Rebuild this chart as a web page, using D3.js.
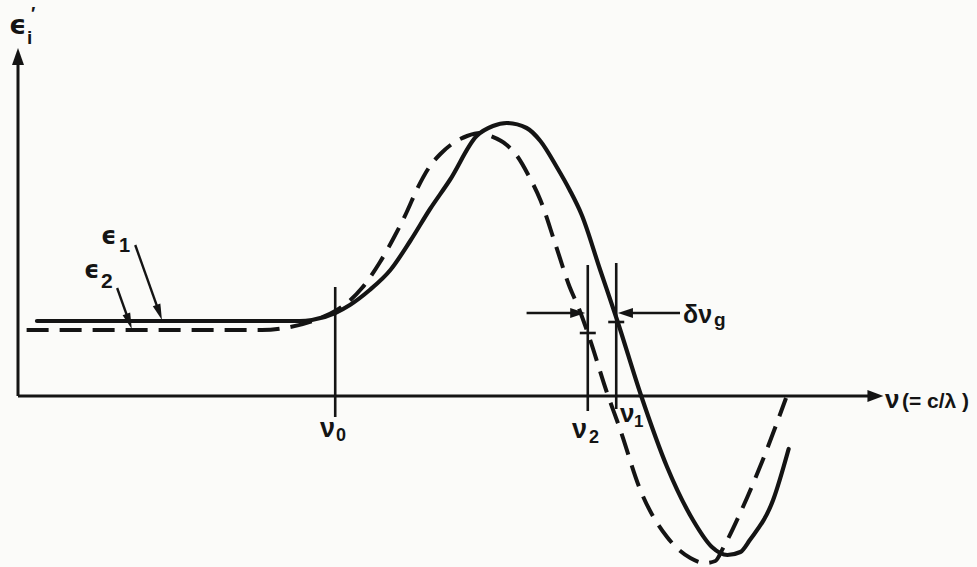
<!DOCTYPE html>
<html>
<head>
<meta charset="utf-8">
<script src="https://cdn.jsdelivr.net/npm/d3@7"></script>
<style>
  html, body { margin: 0; padding: 0; background: #fbfbf9; }
  svg { display: block; }
  text { font-family: "Liberation Sans", "DejaVu Sans", sans-serif; font-weight: bold; fill: #141414; }
  text.eps { font-family: "DejaVu Sans", sans-serif; }
</style>
</head>
<body>
<svg id="chart" width="977" height="567"></svg>
<script>
// curve eps1 (solid), frequency units vs permittivity units
const eps1X = [2.2, 15.3, 32.7, 34.1, 36.8, 38.5, 40.8, 43.2, 45.5, 47.8, 50.1, 53.2, 55.1, 56.7, 59.0, 60.6, 62.5, 64.0, 65.4, 67.5, 69.5, 72.3, 75.3, 78.3, 80.5, 82.3, 83.8, 84.9, 87.6, 89.4];
const eps1Y = [7.5, 7.5, 7.5, 7.6, 8.3, 9.1, 10.6, 12.6, 15.5, 18.7, 21.6, 26.0, 27.0, 27.3, 26.8, 25.5, 22.9, 20.6, 18.1, 12.7, 7.6, 0, -7.1, -12.4, -15.1, -15.9, -15.6, -14.4, -10.4, -5.3];

// curve eps2 (dashed)
const eps2X = [1.0, 15.3, 28.3, 31.6, 34.5, 36.8, 38.3, 39.9, 42.0, 43.7, 45.1, 46.3, 47.8, 49.0, 50.5, 52.1, 53.6, 54.8, 56.7, 57.9, 59.2, 60.6, 62.3, 64.0, 65.0, 66.3, 68.3, 69.8, 72.2, 75.3, 78.0, 79.7, 80.9, 81.8, 84.1, 86.4, 89.1];
const eps2Y = [6.6, 6.6, 6.6, 6.9, 7.6, 8.5, 9.4, 10.8, 13.4, 16.0, 18.4, 20.7, 23.0, 24.2, 25.3, 26.0, 26.3, 26.0, 25.1, 24.0, 22.1, 19.6, 15.3, 10.9, 8.9, 5.8, 0.4, -3.2, -9.4, -14.1, -16.2, -16.7, -16.5, -15.2, -11.1, -6.4, -0.2];

// marked frequencies
const nuNames = ["ν0", "ν2", "ν1"];
const nuX = [36.8, 66.1, 69.4];
const nuTop = [10.9, 13.1, 13.3];
const nuBottom = [-2.1, -1.5, -1.3];
const tickY = [null, 6.3, 7.4];

// group delay arrows
const deltaY = 8.3;
const deltaLeftFrom = 59.0, deltaLeftTo = 65.8;
const deltaRightFrom = 76.8, deltaRightTo = 69.6;

// label leaders
const leaders = [
  { name: "ε1", from: [13.6, 15.1], to: [16.7, 7.6] },
  { name: "ε2", from: [11.5, 10.8], to: [13.2, 6.7] }
];

const xAxisEnd = 100.4;
const yAxisEnd = 34.8;

const ink = "#141414";
const svg = d3.select("#chart");

const x = d3.scaleLinear().domain([0, 100]).range([18, 880]);
const y = d3.scaleLinear().domain([-17, 35]).range([566, 46]);

// filled arrow head with tip at (tx,ty), pointing along angle from (fx,fy)
function arrowHead(g, fx, fy, tx, ty, len, half) {
  const a = Math.atan2(ty - fy, tx - fx);
  const bx = tx - len * Math.cos(a), by = ty - len * Math.sin(a);
  const px = -Math.sin(a) * half, py = Math.cos(a) * half;
  g.append("path")
    .attr("d", `M${tx},${ty}L${bx + px},${by + py}L${bx - px},${by - py}Z`)
    .attr("fill", ink);
}

function arrowLine(g, x1, y1, x2, y2, w, len, half) {
  const a = Math.atan2(y2 - y1, x2 - x1);
  g.append("line")
    .attr("x1", x1).attr("y1", y1)
    .attr("x2", x2 - (len - 2) * Math.cos(a)).attr("y2", y2 - (len - 2) * Math.sin(a))
    .attr("stroke", ink).attr("stroke-width", w);
  arrowHead(g, x1, y1, x2, y2, len, half);
}

const g = svg.append("g");

// axes
arrowLine(g, x(0), y(0), x(xAxisEnd), y(0), 3, 16, 6);
arrowLine(g, x(0), y(0), x(0), y(yAxisEnd), 3, 17, 6);

// frequency markers
g.selectAll(".nu")
  .data(nuX)
  .join("line")
  .attr("class", "nu")
  .attr("x1", d => x(d)).attr("x2", d => x(d))
  .attr("y1", (d, i) => y(nuTop[i]))
  .attr("y2", (d, i) => y(nuBottom[i]))
  .attr("stroke", ink).attr("stroke-width", 2.6);

g.selectAll(".tick-mark")
  .data(nuX.map((d, i) => ({ x: d, y: tickY[i] })).filter(d => d.y !== null))
  .join("line")
  .attr("class", "tick-mark")
  .attr("x1", d => x(d.x) - 8).attr("x2", d => x(d.x) + 8)
  .attr("y1", d => y(d.y)).attr("y2", d => y(d.y))
  .attr("stroke", ink).attr("stroke-width", 2.6);

// curves
const line = d3.line()
  .x(d => x(d[0]))
  .y(d => y(d[1]))
  .curve(d3.curveMonotoneX);

g.append("path")
  .datum(eps2X.map((d, i) => [d, eps2Y[i]]))
  .attr("d", line)
  .attr("fill", "none")
  .attr("stroke", ink)
  .attr("stroke-width", 4)
  .attr("stroke-dasharray", "22,11");

g.append("path")
  .datum(eps1X.map((d, i) => [d, eps1Y[i]]))
  .attr("d", line)
  .attr("fill", "none")
  .attr("stroke", ink)
  .attr("stroke-width", 4.2)
  .attr("stroke-linecap", "round");

// group delay arrows
arrowLine(g, x(deltaLeftFrom), y(deltaY), x(deltaLeftTo), y(deltaY), 2.4, 15, 5);
arrowLine(g, x(deltaRightFrom), y(deltaY), x(deltaRightTo), y(deltaY), 2.4, 15, 5);

// leaders
leaders.forEach(l => {
  arrowLine(g, x(l.from[0]), y(l.from[1]), x(l.to[0]), y(l.to[1]), 2.4, 16, 4);
});

// labels
function label(tx, ty, main, mainSize, sub, subX, subY, subSize, cls) {
  g.append("text").attr("x", tx).attr("y", ty).attr("class", cls || null)
    .attr("font-size", mainSize).text(main);
  if (sub) {
    g.append("text").attr("x", subX).attr("y", subY)
      .attr("font-size", subSize).text(sub);
  }
}

label(9, 34, "ϵ", 27, "i", 27, 44, 19, "eps");
g.append("text").attr("x", 31).attr("y", 20).attr("font-size", 18).text("′");

label(101, 244, "ϵ", 24, "1", 119, 252, 20, "eps");
label(84, 278, "ϵ", 24, "2", 101, 288, 21, "eps");

label(320, 437, "ν", 27, "0", 336, 441, 18);
label(572, 438, "ν", 27, "2", 589, 443, 18);
label(620, 422, "ν", 26, "1", 634, 427, 17);

label(683, 323, "δν", 25, "g", 714, 326, 19);

g.append("text").attr("x", 885).attr("y", 408).attr("font-size", 26).text("ν");
g.append("text").attr("x", 902).attr("y", 408).attr("font-size", 21).text("(= c/λ )");
</script>
</body>
</html>
